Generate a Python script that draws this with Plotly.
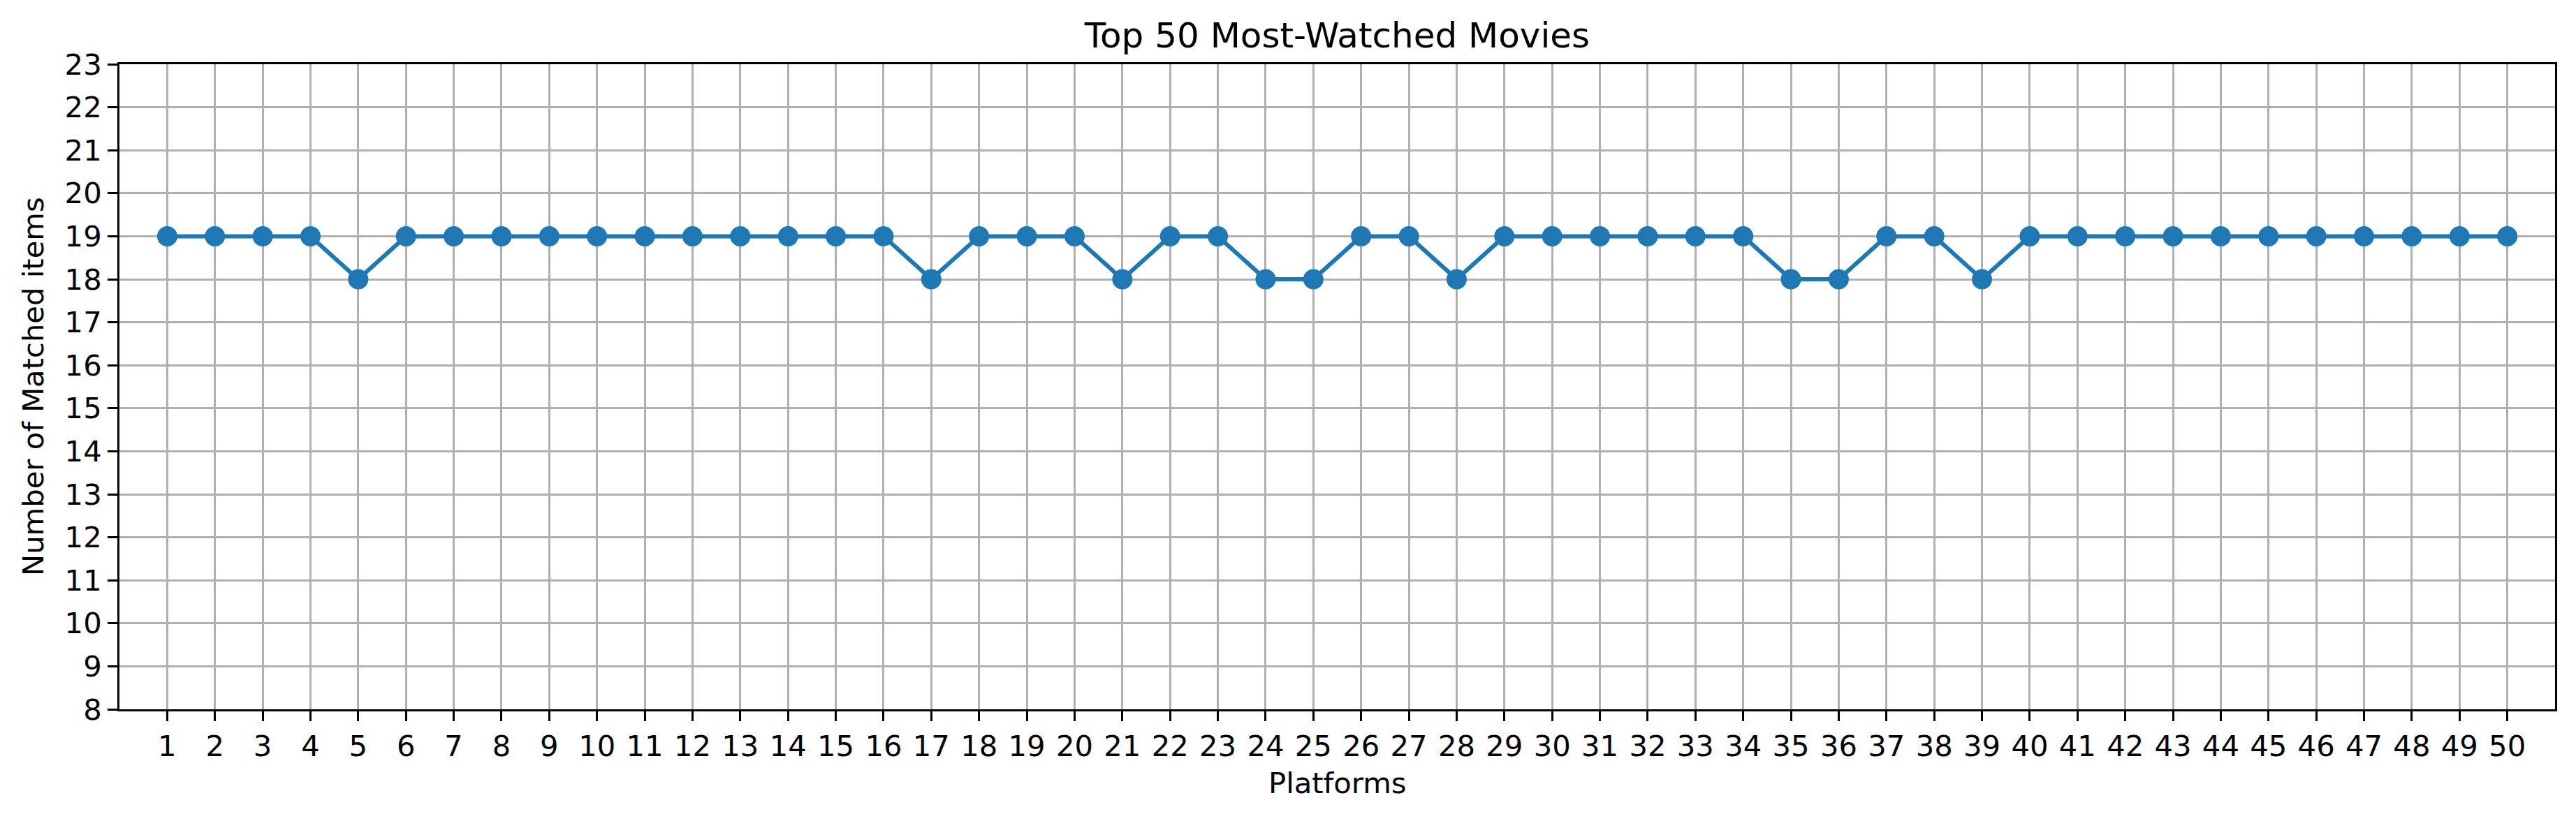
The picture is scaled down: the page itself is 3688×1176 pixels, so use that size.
import plotly.graph_objects as go

platforms = list(range(1, 51))
matched_items = [19, 19, 19, 19, 18, 19, 19, 19, 19, 19,
                 19, 19, 19, 19, 19, 19, 18, 19, 19, 19,
                 18, 19, 19, 18, 18, 19, 19, 18, 19, 19,
                 19, 19, 19, 19, 18, 18, 19, 19, 18, 19,
                 19, 19, 19, 19, 19, 19, 19, 19, 19, 19]
y_ticks = list(range(8, 24))

W, H = 3688, 1176
L, R, T, B = 171, 30, 92, 160
FONT = "DejaVu Sans"
fs = 41.7

fig = go.Figure()
fig.add_trace(go.Scatter(
    x=platforms, y=matched_items, mode="lines+markers",
    line=dict(color="#1f77b4", width=6),
    marker=dict(color="#1f77b4", size=29, line=dict(width=0)),
    showlegend=False,
))

fig.update_layout(
    width=W, height=H,
    margin=dict(l=L, r=R, t=T, b=B, pad=0),
    paper_bgcolor="white", plot_bgcolor="white",
    font=dict(family=FONT, size=fs, color="black"),
    title=dict(text="Top 50 Most-Watched Movies", font=dict(size=50, family=FONT, color="black"),
               x=(L + (W - R)) / 2 / W, xanchor="center", xref="container",
               y=1 - 50 / H, yanchor="middle", yref="container"),
    xaxis=dict(range=[0, 51], tickmode="array", tickvals=platforms,
               ticktext=[str(p) for p in platforms],
               showgrid=True, gridcolor="#b0b0b0", gridwidth=2.7,
               showline=True, linecolor="black", linewidth=3, mirror=True,
               ticks="outside", ticklen=14, tickwidth=3, tickcolor="black",
               tickfont=dict(size=fs, family=FONT), zeroline=False),
    yaxis=dict(range=[8, 23], tickmode="array", tickvals=y_ticks,
               ticktext=[str(v) for v in y_ticks],
               showgrid=True, gridcolor="#b0b0b0", gridwidth=2.7,
               showline=True, linecolor="black", linewidth=3, mirror=True,
               ticks="outside", ticklen=14, tickwidth=3, tickcolor="black",
               tickfont=dict(size=fs, family=FONT), zeroline=False),
    annotations=[
        dict(text="Platforms", xref="paper", yref="paper",
             x=0.5, y=-(1121 - (H - B)) / (H - T - B), xanchor="center", yanchor="middle",
             showarrow=False, font=dict(size=fs, family=FONT, color="black")),
        dict(text="Number of Matched items", xref="paper", yref="paper",
             x=-(L - 47) / (W - L - R), y=0.5, xanchor="center", yanchor="middle",
             textangle=-90, showarrow=False, font=dict(size=fs, family=FONT, color="black")),
    ],
)

fig.write_html("out.html", config={"displayModeBar": False},
               post_script="document.body.style.margin='0';")
